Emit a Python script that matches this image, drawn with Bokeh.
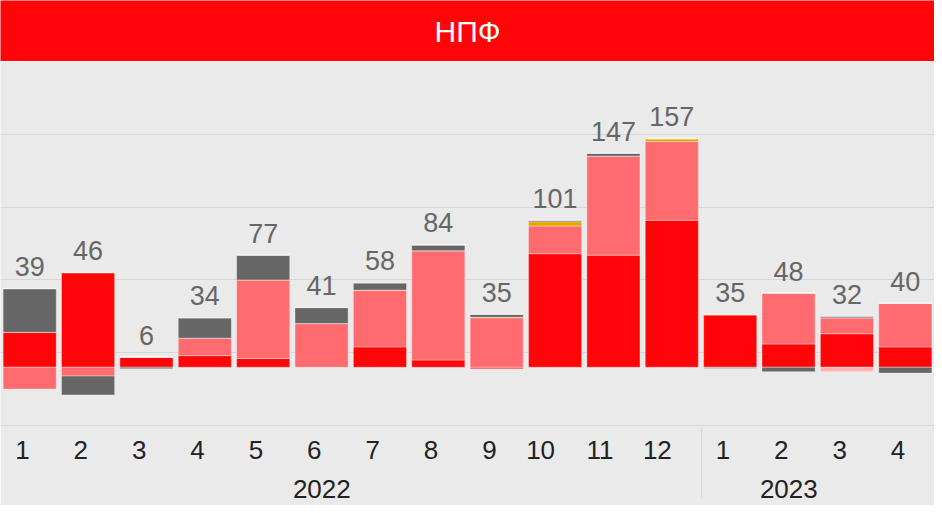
from bokeh.plotting import figure
from bokeh.models import FactorRange, ColumnDataSource, FixedTicker, Range1d
from bokeh.layouts import column
from bokeh.core.properties import value
from bokeh.embed import file_html
from bokeh.resources import INLINE

title_text = "НПФ"
years = ["2022"] * 12 + ["2023"] * 4
months = [str(m) for m in range(1, 13)] + ["1", "2", "3", "4"]
totals = [39, 46, 6, 34, 77, 41, 58, 84, 35, 101, 147, 157, 35, 48, 32, 40]

red = [24, 65, 7, 8, 6, 0, 14, 5, -1, 78, 77, 101, 36, 16, 23, 14]
light_red = [-15, -6, 0, 12, 54, 30, 39, 75, 34, 19, 68, 54, 0, 35, 11, 30]
gold = [0, 0, 0, 0, 0, 0, 0, 0, 0.4, 3, 0, 2, 0.4, 0, 0, 0]
dark_gray = [30, -13, -1, 14, 17, 11, 5, 4, 2, 1, 2, 0, 0, -3, 1, -4]
light_gray = [0, 0, 0, 0, 0, 0, 0, 0, 0, 0, 0, 0, -1, 0, 0, 0]
pink = [0, 0, 0, 0, 0, 0, 0, 0, 0, 0, 0, 0, 0, 0, -3, 0]

series = [
    (red, "#FF0508"),
    (light_red, "#FF6B6E"),
    (gold, "#E6A800"),
    (dark_gray, "#666666"),
    (light_gray, "#A8A8A8"),
    (pink, "#FFB0B0"),
]

y_ticks = [-40, 10, 60, 110, 160, 210]
BG = "#EAEAEA"
FONT = "Liberation Sans"

factors = list(zip(years, months))
x_range = FactorRange(*factors, factor_padding=0, group_padding=0, range_padding=0)

W = 934
header = figure(width=W, height=61, x_range=(0, 1), y_range=(0, 1),
                output_backend="svg", toolbar_location=None,
                min_border=0, outline_line_color=None,
                background_fill_color="#FF0508", border_fill_color="#FF0508")
header.axis.visible = False
header.grid.visible = False
header.text(x=[0.5], y=[0.5], text=[title_text], text_align="center",
            text_baseline="middle", text_color="white",
            text_font=value(FONT), text_font_size="30px")

p = figure(width=W, height=462, x_range=x_range,
           y_range=Range1d(y_ticks[0], y_ticks[-1]),
           output_backend="svg", toolbar_location=None,
           min_border_left=0, min_border_right=0, min_border_top=0,
           min_border_bottom=98,
           background_fill_color=BG, border_fill_color=BG,
           outline_line_color=None)

pos_base = [0.0] * len(factors)
neg_base = [0.0] * len(factors)
for vals, color in series:
    bottoms, tops = [], []
    for i, v in enumerate(vals):
        if v >= 0:
            bottoms.append(pos_base[i]); tops.append(pos_base[i] + v)
            pos_base[i] += v
        else:
            bottoms.append(neg_base[i]); tops.append(neg_base[i] + v)
            neg_base[i] += v
    src = ColumnDataSource(dict(x=factors, bottom=bottoms, top=tops))
    p.vbar(x="x", bottom="bottom", top="top", width=0.91, source=src,
           fill_color=color, line_color="white", line_alpha=0.35, line_width=1)

lab = ColumnDataSource(dict(x=factors, y=pos_base, t=[str(v) for v in totals]))
p.text(x="x", y="y", text="t", source=lab, text_align="center",
       text_baseline="alphabetic", y_offset=-22, text_color="#666666",
       text_font=value(FONT), text_font_size="27px")

p.yaxis.visible = False
p.ygrid.ticker = FixedTicker(ticks=y_ticks)
p.ygrid.grid_line_color = "#D6D6D6"
p.ygrid.grid_line_width = 1
p.xgrid.visible = False

ax = p.xaxis[0]
ax.axis_line_color = "#D6D6D6"
ax.major_tick_line_color = None
ax.minor_tick_line_color = None
ax.major_label_text_font = FONT
ax.major_label_text_font_size = "26px"
ax.major_label_text_color = "#222222"
ax.major_label_text_line_height = 1.6
ax.major_label_standoff = 18
ax.major_label_orientation = 0
ax.group_text_font = FONT
ax.group_text_font_size = "26px"
ax.group_text_font_style = "normal"
ax.group_text_color = "#222222"
ax.group_label_orientation = 0
ax.separator_line_color = "#D6D6D6"
ax.separator_line_width = 1

layout = column(header, p, spacing=0, width=W, height=505,
                styles={"overflow": "hidden"})
open("out.html", "w").write(file_html(layout, INLINE))
